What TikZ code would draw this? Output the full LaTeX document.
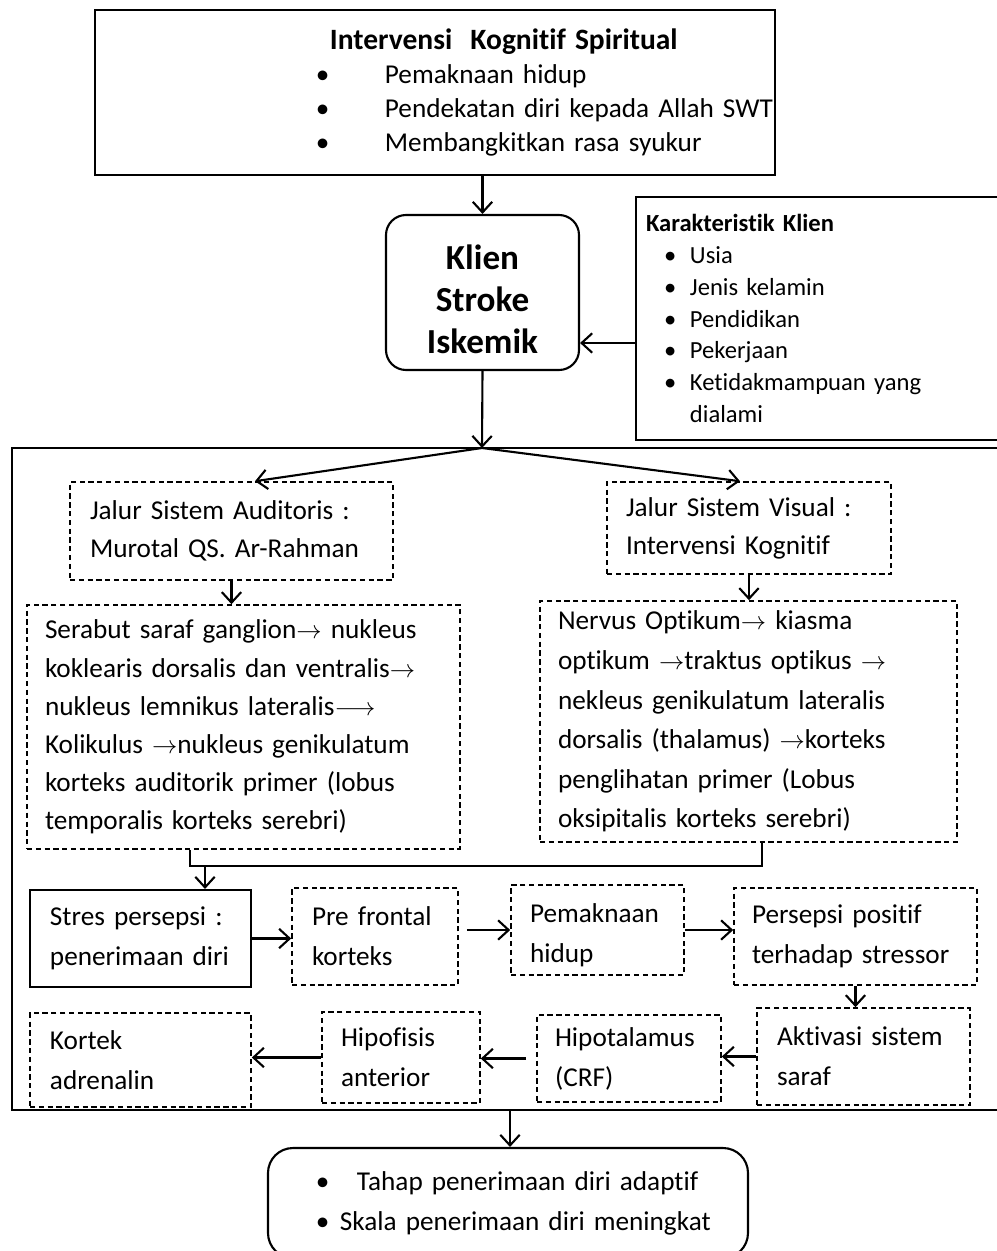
\documentclass[tikz,border=0pt]{standalone}
\usepackage{fontspec}
\setmainfont{Carlito}[Ligatures=NoCommon]
\usetikzlibrary{arrows.meta, positioning}

\newcommand{\pnh}{\ensuremath{\rightarrow}}
\newcommand{\pnhpanjang}{\ensuremath{\longrightarrow}}
\newcommand{\butir}[2]{\hspace*{#1}\makebox[#2][l]{\textbullet}}

\begin{document}
\begin{tikzpicture}[x=0.02cm, y=-0.02cm,
    box/.style={
      rectangle, draw, line width=1.2pt, align=left, inner ysep=0pt,
      font=\fontsize{15.5}{21.7}\selectfont
    },
    dbox/.style={box, line width=0.9pt, dash pattern=on 3pt off 2pt},
    sz/.style n args={3}{
      minimum width=#1*0.02cm, minimum height=#2*0.02cm,
      inner xsep=#3*0.02cm, text width=(#1-2*#3)*0.02cm
    },
    baris/.style={font=\fontsize{15.5}{22.7}\selectfont},
    arr/.style={-{Straight Barb[length=6pt,width=11pt]}, line width=1.2pt}
]
  \useasboundingbox (0,0) rectangle (997,1251);

  % atas
  \node[box, sz={680}{165}{0}, font=\fontsize{15.5}{19.3}\selectfont]
    (intervensi) at (435,92.5)
    {\hspace*{4.7cm}{\fontsize{16.8}{19.3}\selectfont\bfseries Intervensi\ \ Kognitif Spiritual}\\
     \butir{4.42cm}{1.38cm}Pemaknaan hidup\\
     \butir{4.42cm}{1.38cm}Pendekatan diri kepada Allah SWT\\
     \butir{4.42cm}{1.38cm}Membangkitkan rasa syukur};
  \node[box, rounded corners=0.4cm, sz={193}{155}{0}, align=center,
        font=\fontsize{20}{23.8}\selectfont\bfseries]
    (klien) at (482.5,292.5) {\rule{0pt}{0.77cm}Klien\\Stroke\\Iskemik};
  \node[box, sz={366}{243}{10}, font=\fontsize{14}{18.1}\selectfont]
    (karakteristik) at (819,318.5)
    {\textbf{Karakteristik Klien}\\
     \butir{0.36cm}{0.52cm}Usia\\
     \butir{0.36cm}{0.52cm}Jenis kelamin\\
     \butir{0.36cm}{0.52cm}Pendidikan\\
     \butir{0.36cm}{0.52cm}Pekerjaan\\
     \butir{0.36cm}{0.52cm}Ketidakmampuan yang\\
     \hspace*{0.88cm}dialami};

  \draw[arr] (klien.north |- intervensi.south) -- (klien.north);
  \draw[arr] (karakteristik.west |- 0,343) -- (klien.east |- 0,343);

  % bingkai
  \draw[line width=1.6pt] (1002,448) -- (12,448) -- (12,1110) -- (1002,1110);
  \coordinate (cabang) at (482,448);
  \coordinate (gabung) at (205,866);
  \coordinate (keluar) at (510,1110);
  \draw[arr] (klien.south) -- (cabang);

  % dua jalur
  \node[dbox, sz={323}{98}{20}] (auditoris) at (231.5,531)
    {Jalur Sistem Auditoris :\\Murotal QS. Ar-Rahman};
  \node[dbox, sz={284}{92}{19}] (visual) at (749,528)
    {Jalur Sistem Visual :\\Intervensi Kognitif};
  \node[dbox, sz={433}{244}{18}] (serabut) at (243.5,727)
    {Serabut saraf ganglion\pnh{} nukleus\\
     koklearis dorsalis dan ventralis\pnh\\
     nukleus lemnikus lateralis\pnhpanjang\\
     Kolikulus \pnh nukleus genikulatum\\
     korteks auditorik primer (lobus\\
     temporalis korteks serebri)};
  \node[dbox, sz={417}{241}{18}, font=\fontsize{15.5}{22.5}\selectfont]
    (nervus) at (748.5,721.5)
    {Nervus Optikum\pnh{} kiasma\\
     optikum \pnh traktus optikus \pnh\\
     nekleus genikulatum lateralis\\
     dorsalis (thalamus) \pnh korteks\\
     penglihatan primer (Lobus\\
     oksipitalis korteks serebri)};

  \draw[arr] (cabang) -- ([xshift=0.47cm]auditoris.north);
  \draw[arr] (cabang) -- ([xshift=-0.18cm]visual.north);
  \draw[arr] (auditoris.south) -- (auditoris.south |- serabut.north);
  \draw[arr] (visual.south) -- (visual.south |- nervus.north);
  \draw[line width=1.2pt] (serabut.south -| 190,0) -- (190,866) -| (nervus.south -| 762,0);

  % baris 1
  \node[box, baris, sz={221}{97}{20}] (stres) at (140.5,938.5)
    {Stres persepsi :\\penerimaan diri};
  \node[dbox, baris, sz={166}{97}{20}] (prefrontal) at (375,936.5)
    {Pre frontal\\korteks};
  \node[dbox, baris, sz={173}{90}{19}] (pemaknaan) at (597.5,930)
    {\rule{0pt}{0.6cm}Pemaknaan\\hidup};
  \node[dbox, baris, sz={243}{97}{18}] (persepsi) at (855.5,936.5)
    {Persepsi positif\\terhadap stressor};

  % baris 2
  \node[dbox, baris, sz={213}{97}{20}] (aktivasi) at (863.5,1056.5)
    {Aktivasi sistem\\saraf};
  \node[dbox, baris, sz={184}{87}{18}] (hipotalamus) at (629,1058.5)
    {Hipotalamus\\(CRF)};
  \node[dbox, baris, sz={158}{91}{19}] (hipofisis) at (401,1057.5)
    {Hipofisis\\anterior};
  \node[dbox, baris, sz={221}{94}{20}] (kortek) at (140.5,1060)
    {Kortek\\adrenalin};

  \draw[arr] (gabung) -- (gabung |- stres.north);
  \draw[arr] (stres.east) -- (stres.east -| prefrontal.west);
  \draw[arr] ([xshift=0.16cm]prefrontal.east |- pemaknaan) -- (pemaknaan.west);
  \draw[arr] (pemaknaan.east) -- (pemaknaan.east -| persepsi.west);
  \draw[arr] (persepsi.south) -- (persepsi.south |- aktivasi.north);
  \draw[arr] (aktivasi.west) -- (aktivasi.west -| hipotalamus.east);
  \draw[arr] ([xshift=-0.2cm]hipotalamus.west) -- (hipotalamus.west -| hipofisis.east);
  \draw[arr] (hipofisis.west) -- (hipofisis.west -| kortek.east);

  % hasil
  \node[box, rounded corners=0.5cm, sz={480}{110}{0},
        font=\fontsize{15.5}{22.7}\selectfont]
    (hasil) at (508,1203)
    {\butir{0.96cm}{0.82cm}Tahap penerimaan diri adaptif\\
     \butir{0.96cm}{0.48cm}Skala penerimaan diri meningkat};
  \draw[arr] (keluar) -- (keluar |- hasil.north);
\end{tikzpicture}
\end{document}
